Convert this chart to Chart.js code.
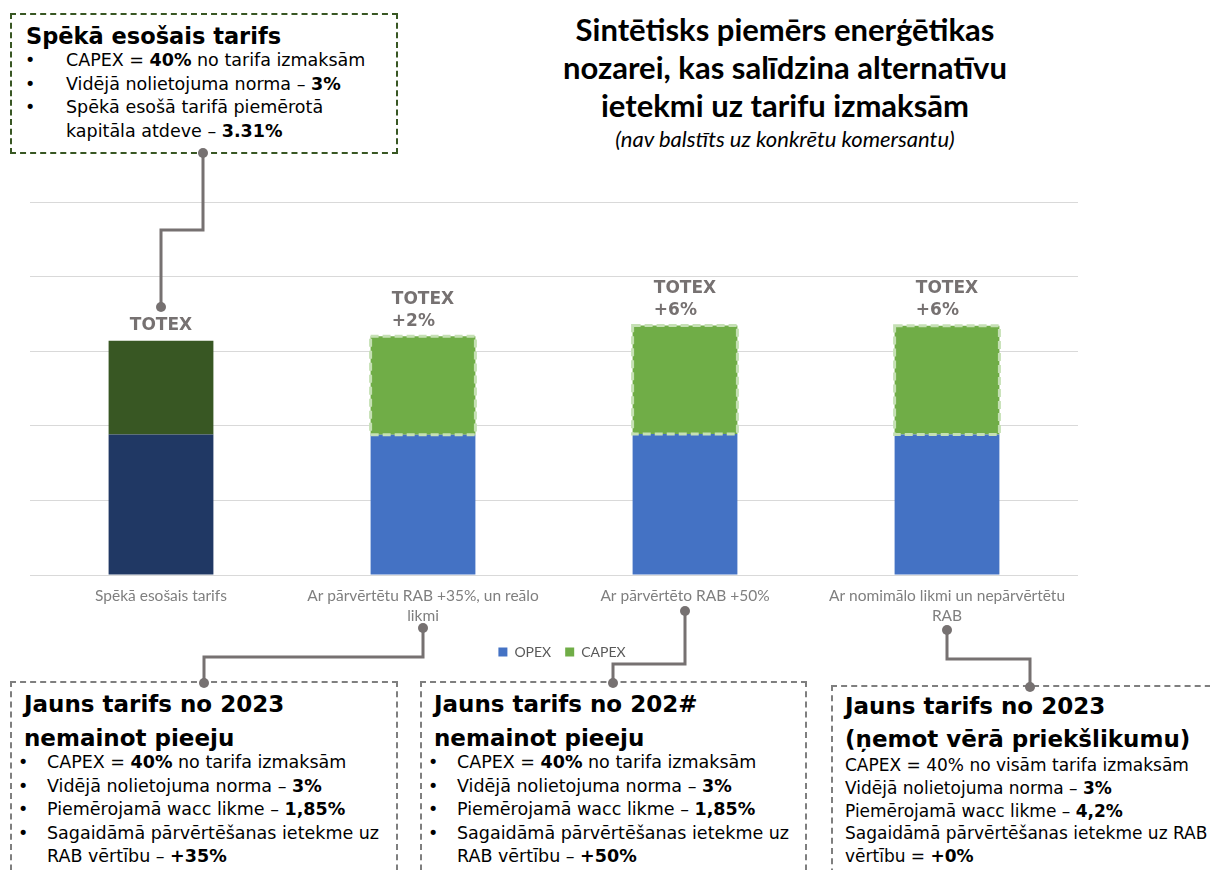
<!DOCTYPE html>
<html>
<head>
<meta charset="utf-8">
<script src="https://cdn.jsdelivr.net/npm/chart.js@4"></script>
<style>
  body { margin: 0; width: 1210px; height: 870px; position: relative; overflow: hidden; background: #fff; }
  #title { position: absolute; left: 520px; width: 530px; top: 10px; text-align: center; font-family: Lato, sans-serif; }
  #title .main { font-weight: 700; font-size: 31px; line-height: 38px; color: #000; }
  #title .sub { font-style: italic; font-size: 22px; line-height: 26px; margin-top: 2px; color: #000; }
  .box { position: absolute; box-sizing: border-box; border: 2px dashed #7f7f7f; font-family: "DejaVu Sans", Verdana, sans-serif; color: #000; }
  .box .hd { font-weight: 700; font-size: 23px; line-height: 34px; }
  .box ul { list-style: none; margin: 0; padding: 0; font-size: 17.5px; line-height: 23.5px; }
  .box li { position: relative; white-space: nowrap; }
  .box li::before { content: "•"; position: absolute; }
  #b1 { left: 10px; top: 13px; width: 388px; height: 141px; border-color: #385723; padding: 8px 0 0 14px; }
  #b1 .hd { line-height: 26px; font-size: 22.5px; }
  #b1 ul { line-height: 23.7px; }
  #b1 li { padding-left: 40px; }
  #b1 li::before { left: -1px; }
  #b2 { left: 10px; top: 681px; width: 388px; height: 220px; padding: 4px 0 0 12px; }
  #b3 { left: 420px; top: 681px; width: 387px; height: 220px; padding: 4px 0 0 12px; }
  #b2 ul, #b3 ul { margin-top: -4px; }
  #b2 li, #b3 li { padding-left: 23px; }
  #b2 li::before, #b3 li::before { left: -6px; }
  #b4 { left: 831px; top: 685px; width: 400px; height: 220px; padding: 3px 0 0 12px; }
  #b4 .hd { line-height: 33px; }
  #b4 ul { margin-top: -2px; line-height: 22.8px; font-size: 17px; }
  #b4 li::before { content: none; }
  canvas { position: absolute; left: 0; top: 0; z-index: 2; pointer-events: none; }
</style>
</head>
<body>
<div id="title">
  <div class="main">Sintētisks piemērs enerģētikas<br>nozarei, kas salīdzina alternatīvu<br>ietekmi uz tarifu izmaksām</div>
  <div class="sub">(nav balstīts uz konkrētu komersantu)</div>
</div>

<div class="box" id="b1">
  <div class="hd">Spēkā esošais tarifs</div>
  <ul>
    <li>CAPEX = <b>40%</b> no tarifa izmaksām</li>
    <li>Vidējā nolietojuma norma – <b>3%</b></li>
    <li>Spēkā esošā tarifā piemērotā<br>kapitāla atdeve – <b>3.31%</b></li>
  </ul>
</div>

<div class="box" id="b2">
  <div class="hd">Jauns tarifs no 2023<br>nemainot pieeju</div>
  <ul>
    <li>CAPEX = <b>40%</b> no tarifa izmaksām</li>
    <li>Vidējā nolietojuma norma – <b>3%</b></li>
    <li>Piemērojamā wacc likme – <b>1,85%</b></li>
    <li>Sagaidāmā pārvērtēšanas ietekme uz<br>RAB vērtību – <b>+35%</b></li>
  </ul>
</div>

<div class="box" id="b3">
  <div class="hd">Jauns tarifs no 202#<br>nemainot pieeju</div>
  <ul>
    <li>CAPEX = <b>40%</b> no tarifa izmaksām</li>
    <li>Vidējā nolietojuma norma – <b>3%</b></li>
    <li>Piemērojamā wacc likme – <b>1,85%</b></li>
    <li>Sagaidāmā pārvērtēšanas ietekme uz<br>RAB vērtību – <b>+50%</b></li>
  </ul>
</div>

<div class="box" id="b4">
  <div class="hd">Jauns tarifs no 2023<br>(ņemot vērā priekšlikumu)</div>
  <ul>
    <li>CAPEX = 40% no visām tarifa izmaksām</li>
    <li>Vidējā nolietojuma norma – <b>3%</b></li>
    <li>Piemērojamā wacc likme – <b>4,2%</b></li>
    <li>Sagaidāmā pārvērtēšanas ietekme uz RAB<br>vērtību = <b>+0%</b></li>
  </ul>
</div>

<canvas id="chart" width="1210" height="870"></canvas>

<script>
// categories (multi-line tick labels)
const categories = [
    ['Spēkā esošais tarifs'],
    ['Ar pārvērtētu RAB +35%, un reālo', 'likmi'],
    ['Ar pārvērtēto RAB +50%'],
    ['Ar nomimālo likmi un nepārvērtētu', 'RAB']
];
const opex = [37.7, 37.6, 37.8, 37.7];
const capex = [25.1, 26.4, 29.1, 29.1];
const totexLabels = [['TOTEX'], ['TOTEX', '+2%'], ['TOTEX', '+6%'], ['TOTEX', '+6%']];

const GRAY = '#767171';
const OPEX_COLOR = '#4472C4';
const CAPEX_COLOR = '#70AD47';

// first bar is the current tariff, drawn darker
const pick = (dark, light) => ctx => (ctx.type === 'data' && ctx.dataIndex === 0) ? dark : light;

const overlay = {
    id: 'overlay',
    afterLayout(chart) {
        // legend sits a bit right of the plot centre
        chart.legend.left += 8;
        chart.legend.right += 8;
    },
    afterDatasetsDraw(chart) {
        const ctx = chart.ctx;
        const meta = chart.getDatasetMeta(1);
        meta.data.forEach((bar, i) => {
            const { x, y, base, width } = bar.getProps(['x', 'y', 'base', 'width'], true);
            if (i > 0) {
                ctx.save();
                ctx.setLineDash([8, 4]);
                ctx.lineWidth = 3;
                ctx.strokeStyle = '#C5E0B4';
                ctx.strokeRect(x - width / 2, y, width, base - y);
                ctx.restore();
            }
            // TOTEX label above the stack
            const lines = totexLabels[i];
            ctx.save();
            ctx.font = 'bold 17px "DejaVu Sans"';
            ctx.fillStyle = GRAY;
            ctx.textBaseline = 'middle';
            const w = Math.max(...lines.map(l => ctx.measureText(l).width));
            lines.forEach((l, k) => {
                ctx.fillText(l, x - w / 2, y - 15 - (lines.length - 1 - k) * 22);
            });
            ctx.restore();
        });
    },
    afterDraw(chart) {
        const ctx = chart.ctx;
        const cx = i => chart.scales.x.getPixelForValue(i);
        const paths = [
            [[203, 153], [203, 230], [cx(0), 230], [cx(0), 307]],
            [[cx(1), 628], [cx(1), 657], [204, 657], [204, 683]],
            [[cx(2), 611], [cx(2), 664], [613, 664], [613, 683]],
            [[cx(3), 630], [cx(3), 659], [1030, 659], [1030, 687]]
        ];
        ctx.save();
        ctx.strokeStyle = GRAY;
        ctx.fillStyle = GRAY;
        ctx.lineWidth = 3;
        paths.forEach(p => {
            ctx.beginPath();
            p.forEach(([px, py], k) => k ? ctx.lineTo(px, py) : ctx.moveTo(px, py));
            ctx.stroke();
            [p[0], p[p.length - 1]].forEach(([px, py]) => {
                ctx.beginPath();
                ctx.arc(px, py, 5, 0, Math.PI * 2);
                ctx.fill();
            });
        });
        ctx.restore();
    }
};

new Chart(document.getElementById('chart'), {
    type: 'bar',
    data: {
        labels: categories,
        datasets: [
            { label: 'OPEX', data: opex, backgroundColor: pick('#203864', OPEX_COLOR) },
            { label: 'CAPEX', data: capex, backgroundColor: pick('#385723', CAPEX_COLOR) }
        ]
    },
    options: {
        responsive: false,
        animation: false,
        layout: { padding: { top: 202, left: 30, right: 132, bottom: 201 } },
        datasets: { bar: { categoryPercentage: 0.8, barPercentage: 0.5 } },
        plugins: {
            legend: {
                position: 'bottom',
                labels: {
                    boxWidth: 9, boxHeight: 9, padding: 14,
                    color: '#595959',
                    font: { family: 'Lato', size: 14 },
                    generateLabels: chart => chart.data.datasets.map((ds, i) => {
                        const c = i === 0 ? OPEX_COLOR : CAPEX_COLOR;
                        return { text: ds.label, fillStyle: c, strokeStyle: c, lineWidth: 0, datasetIndex: i, fontColor: '#595959' };
                    })
                }
            },
            tooltip: { enabled: false }
        },
        scales: {
            x: {
                stacked: true,
                grid: { display: false },
                border: { display: false },
                ticks: { color: '#7f7f7f', padding: 3, font: { family: 'Lato', size: 15.5, lineHeight: 1.3 }, maxRotation: 0 },
                afterFit: s => { s.height = 56; }
            },
            y: {
                stacked: true,
                min: 0, max: 100,
                grid: { color: '#D9D9D9', drawTicks: false },
                border: { display: false },
                ticks: { display: false, stepSize: 20 }
            }
        }
    },
    plugins: [overlay]
});
</script>
</body>
</html>
